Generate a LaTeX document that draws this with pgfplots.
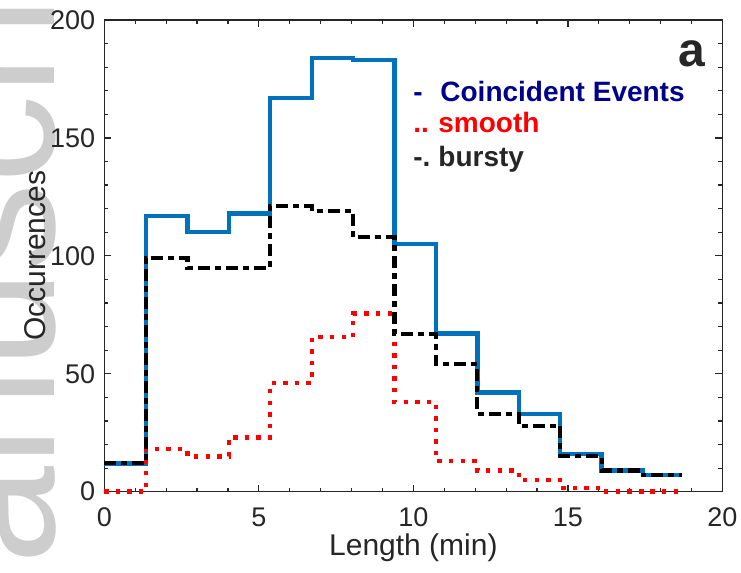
\documentclass[border=0pt]{standalone}
\usepackage{fontspec}
\setmainfont{Liberation Sans}
\usepackage{pgfplots}
\pgfplotsset{compat=1.18}
\definecolor{mblue}{RGB}{0,114,189}
\definecolor{axgray}{RGB}{38,38,38}
\definecolor{navy}{RGB}{0,0,140}
\definecolor{wm}{RGB}{205,205,205}
\begin{document}
\begin{tikzpicture}
\path[use as bounding box] (-52.15pt,-40.65pt) rectangle (318.35pt,245.85pt);
\node[rotate=90, anchor=base west, inner sep=0pt, text=wm, font=\fontsize{88}{90}\selectfont] at (-24.65pt,-36.65pt) {anuscript};
\begin{axis}[
  at={(0pt,0pt)}, anchor=south west,
  scale only axis, width=309.1pt, height=235.85pt,
  xmin=0, xmax=20, ymin=0, ymax=200,
  xtick={0,5,...,20}, ytick={0,50,...,200},
  minor x tick num=4, minor y tick num=4,
  tick align=inside, tick pos=both,
  major tick length=3.5pt, minor tick length=2pt,
  axis line style={axgray, line width=0.6pt},
  every tick/.style={axgray, line width=0.6pt},
  /pgf/number format/assume math mode=true,
  ticklabel style={font=\fontsize{13.5}{16}\selectfont, text=axgray},
  xticklabel style={yshift=-4.5pt},
  yticklabel style={xshift=-1pt},
  xlabel={Length (min)}, ylabel={Occurrences},
  label style={font=\fontsize{15}{18}\selectfont, text=axgray},
  xlabel style={at={(axis description cs:0.5,0)}, anchor=center, yshift=-28pt},
  ylabel style={at={(axis description cs:0,0.5)}, anchor=center, yshift=34.7pt},
  clip=false,
]
\addplot[const plot, mblue, line width=2.2pt, line join=miter] coordinates {
(0,12) (1.35,117) (2.69,110) (4.03,118) (5.37,167) (6.71,184) (8.05,183) (9.39,105) (10.73,67) (12.07,42) (13.41,33) (14.75,16) (16.09,9) (17.43,7) (18.70,7)};
\addplot[const plot, red, line width=2.2pt, line cap=butt, dash pattern=on 2.2pt off 3.6pt] coordinates {
(0,0) (1.35,18) (2.69,15) (4.03,23) (5.37,46) (6.71,65.5) (8.05,75.5) (9.39,38) (10.73,13) (12.07,9) (13.41,5) (14.75,1.5) (16.09,0) (17.43,0) (18.60,0)};
\addplot[const plot, black, line width=2.1pt, line cap=butt, dash pattern=on 6pt off 2.5pt on 3pt off 2.5pt] coordinates {
(0,12) (1.35,99) (2.69,95) (4.03,95) (5.37,121) (6.71,119) (8.05,108) (9.39,67) (10.73,54) (12.07,33) (13.41,28) (14.75,15) (16.09,9) (17.43,7) (18.70,7)};
\end{axis}
\begin{scope}[every node/.style={inner sep=0pt, anchor=base west, font=\fontsize{14}{16}\selectfont\bfseries}]
\node[text=navy] at (154.35pt,195pt) {-};
\node[text=navy] at (167.85pt,195pt) {Coincident Events};
\node[text=red] at (154.35pt,179.35pt) {..};
\node[text=red] at (166.85pt,179.35pt) {smooth};
\node[text=axgray] at (154.35pt,162.5pt) {-.};
\node[text=axgray] at (166.85pt,162.5pt) {bursty};
\end{scope}
\node[inner sep=0pt, anchor=base east, text=axgray, font=\fontsize{24}{26}\selectfont\bfseries] at (300.85pt,212.5pt) {a};
\end{tikzpicture}
\end{document}
